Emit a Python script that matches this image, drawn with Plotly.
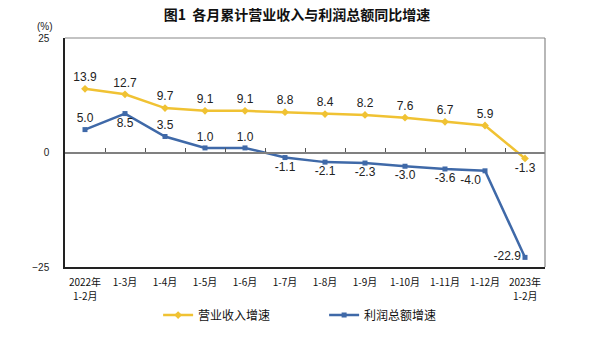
import plotly.graph_objects as go

# Cumulative periods (category keys) and their axis labels
periods = ["2022年1-2月", "1-3月", "1-4月", "1-5月", "1-6月", "1-7月",
           "1-8月", "1-9月", "1-10月", "1-11月", "1-12月", "2023年1-2月"]
tick_text = ["2022年", "1-3月", "1-4月", "1-5月", "1-6月", "1-7月",
             "1-8月", "1-9月", "1-10月", "1-11月", "1-12月", "2023年"]
# second label line under the year-start periods
sub_labels = {"2022年1-2月": "1-2月", "2023年1-2月": "1-2月"}

# Year-on-year growth (%)
revenue_growth = [13.9, 12.7, 9.7, 9.1, 9.1, 8.8, 8.4, 8.2, 7.6, 6.7, 5.9, -1.3]
profit_growth = [5.0, 8.5, 3.5, 1.0, 1.0, -1.1, -2.1, -2.3, -3.0, -3.6, -4.0, -22.9]

y_ticks = [-25, 0, 25]

YELLOW = "#F0C233"
BLUE = "#3F69A8"
LATIN = "Liberation Sans, Arial, sans-serif"
CJK = "Noto Sans CJK SC, sans-serif"
NUM_FONT = dict(family=LATIN, size=12, color="#222")

rev_pos = ["top center"] * (len(revenue_growth) - 1) + ["bottom center"]
prof_pos = ["top center", "bottom center", "top center", "top center", "top center",
            "bottom center", "bottom center", "bottom center", "bottom center",
            "bottom center", "bottom left", "middle left"]

fig = go.Figure()

fig.add_trace(go.Scatter(
    x=periods, y=revenue_growth, name="营业收入增速",
    mode="lines+markers+text",
    line=dict(color=YELLOW, width=2.5),
    marker=dict(symbol="diamond", size=6, color=YELLOW),
    text=[f"{v:.1f}" for v in revenue_growth],
    textposition=rev_pos, textfont=NUM_FONT,
))

fig.add_trace(go.Scatter(
    x=periods, y=profit_growth, name="利润总额增速",
    mode="lines+markers+text",
    line=dict(color=BLUE, width=2.5),
    marker=dict(symbol="square", size=5, color=BLUE),
    text=[f"{v:.1f}" for v in profit_growth],
    textposition=prof_pos, textfont=NUM_FONT,
))

# Hidden trace carrying the zero-level axis with its boundary ticks
fig.add_trace(go.Scatter(
    x=periods, y=[None] * len(periods), xaxis="x2", showlegend=False,
    hoverinfo="skip", mode="lines",
))

annotations = [dict(text="(%)", xref="paper", yref="paper", x=-0.021, y=1.05,
                    xanchor="right", yanchor="middle", showarrow=False,
                    font=dict(family=LATIN, size=10, color="#222"))]
for key, line2 in sub_labels.items():
    annotations.append(dict(text=line2, xref="x", yref="paper", x=key, y=-0.123,
                            xanchor="center", yanchor="middle", showarrow=False,
                            borderpad=0,
                            font=dict(family=CJK, size=10, color="#111")))

fig.update_layout(
    width=594, height=341,
    margin=dict(l=65, r=49, t=38, b=74),
    paper_bgcolor="white", plot_bgcolor="white",
    title=dict(text="图1  各月累计营业收入与利润总额同比增速",
               x=0.5, xanchor="center", y=0.955, yanchor="middle",
               font=dict(family=CJK, size=14, color="#111", weight="bold")),
    xaxis=dict(type="category", categoryorder="array", categoryarray=periods,
               range=[-0.5, len(periods) - 0.5],
               tickmode="array", tickvals=periods, ticktext=tick_text,
               showline=True, linecolor="#222", linewidth=1.5,
               showgrid=False, ticks="", ticklabelstandoff=5,
               tickfont=dict(family=CJK, size=10, color="#111")),
    xaxis2=dict(type="category", categoryorder="array", categoryarray=periods,
                range=[-0.5, len(periods) - 0.5], overlaying="x",
                anchor="free", position=0.5, side="bottom",
                showline=True, linecolor="#808080", linewidth=1.5,
                ticks="inside", tickson="boundaries", ticklen=4,
                tickcolor="#555", tickwidth=1,
                showticklabels=False, showgrid=False),
    yaxis=dict(range=[-25, 25], tickvals=y_ticks, showgrid=False,
               zeroline=False, showline=True, linecolor="#222", linewidth=1.5,
               ticks="", ticklabelstandoff=12,
               tickfont=dict(family=LATIN, size=10, color="#222")),
    legend=dict(orientation="h", x=0.194, xanchor="left", y=-0.21, yanchor="middle",
                font=dict(family=CJK, size=12, color="#111"),
                entrywidth=121, bgcolor="rgba(0,0,0,0)"),
    shapes=[dict(type="line", xref="paper", yref="paper", x0=0, x1=1, y0=1, y1=1,
                 line=dict(color="#888", width=1.2)),
            dict(type="line", xref="paper", yref="paper", x0=1, x1=1, y0=0, y1=1,
                 line=dict(color="#888", width=1.2))],
    annotations=annotations,
)

fig.write_html("out.html")
